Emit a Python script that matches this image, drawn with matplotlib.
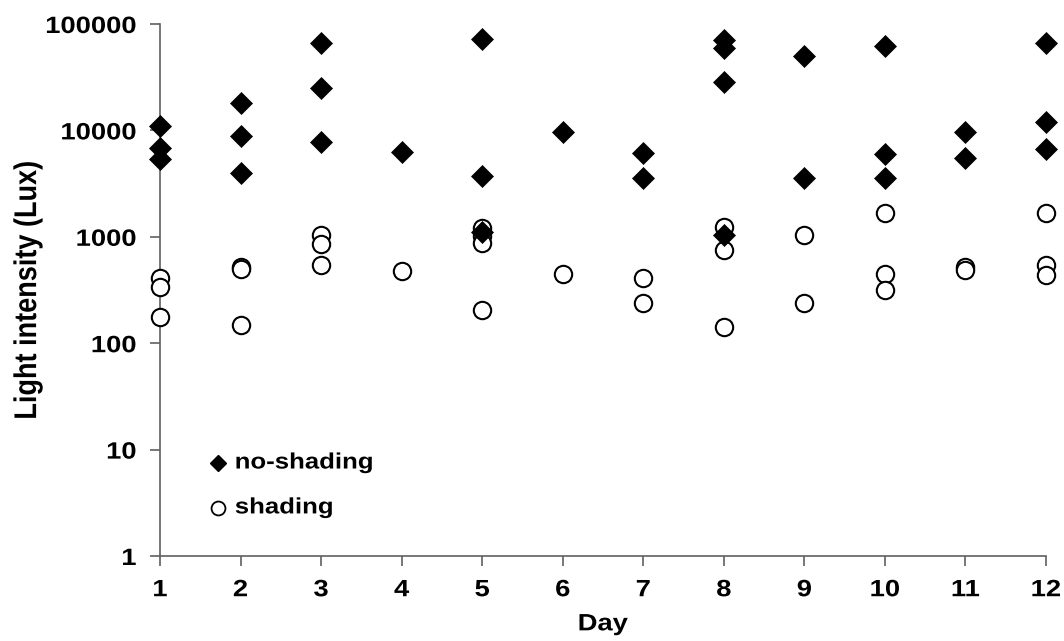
import matplotlib
matplotlib.use("Agg")
import matplotlib.pyplot as plt
from matplotlib.ticker import FixedLocator, FixedFormatter, NullLocator
from matplotlib.patheffects import AbstractPathEffect
from matplotlib.transforms import Affine2D

plt.rcParams['font.family'] = ['Liberation Sans', 'DejaVu Sans']
plt.rcParams['font.weight'] = 'bold'

# no-shading series (day, lux)
noshade_day = [1, 1, 1, 2, 2, 2, 3, 3, 3, 4, 5, 5, 5, 6, 7, 7,
               8, 8, 8, 8, 9, 9, 10, 10, 10, 11, 11, 12, 12, 12]
noshade_lux = [11000, 6800, 5350, 18000, 8900, 3950, 66000, 25200, 7800,
               6300, 73000, 3730, 1120, 9700, 6100, 3600,
               70000, 59000, 28700, 1040, 50000, 3590, 62500, 6000, 3590,
               9700, 5540, 66000, 12100, 6640]

# shading series (day, lux)
shade_day = [1, 1, 1, 2, 2, 2, 3, 3, 3, 4, 5, 5, 5, 5, 6, 7, 7,
             8, 8, 8, 9, 9, 10, 10, 10, 11, 11, 12, 12, 12]
shade_lux = [410, 335, 177, 524, 495, 148, 1040, 850, 543, 477,
             1210, 1010, 870, 205, 450, 407, 240,
             1245, 751, 143, 1040, 240, 1685, 447, 316, 524, 488,
             1685, 543, 438]

day_ticks = list(range(1, 13))
y_ticks = [1, 10, 100, 1000, 10000, 100000]
y_labels = ["1", "10", "100", "1000", "10000", "100000"]
legend_labels = ['no-shading', 'shading']


class StretchX(AbstractPathEffect):
    """Stretch text glyphs horizontally (the reference text is wide)."""
    def __init__(self, sx=1.16, anchor='center'):
        super().__init__()
        self.sx = sx
        self.anchor = anchor

    def draw_path(self, renderer, gc, tpath, affine, rgbFace=None):
        ext = tpath.get_extents(affine)
        if self.anchor == 'right':
            x0 = ext.x1
        elif self.anchor == 'left':
            x0 = ext.x0
        else:
            x0 = 0.5 * (ext.x0 + ext.x1)
        new = affine + Affine2D().translate(-x0, 0).scale(self.sx, 1).translate(x0, 0)
        renderer.draw_path(gc, tpath, new, rgbFace)


fig = plt.figure(figsize=(10.64, 6.41), dpi=100)
ax = fig.add_axes([160/1064, 1-556/641, (1046-160)/1064, (556-24)/641])

ax.plot(shade_day, shade_lux, linestyle='none', marker='o', ms=12.5,
        mfc='white', mec='black', mew=1.5, clip_on=False, zorder=3)
ax.plot(noshade_day, noshade_lux, linestyle='none', marker='D', ms=11,
        mfc='black', mec='black', mew=0.5, clip_on=False, zorder=4)

ax.set_yscale('log')
ax.set_ylim(1, 100000)
ax.set_xlim(1, 12)
ax.yaxis.set_major_locator(FixedLocator(y_ticks))
ax.yaxis.set_major_formatter(FixedFormatter(y_labels))
ax.yaxis.set_minor_locator(NullLocator())
ax.set_xticks(day_ticks)
ax.set_xticklabels([str(d) for d in day_ticks])

for s in ['top', 'right']:
    ax.spines[s].set_visible(False)
for s in ['left', 'bottom']:
    ax.spines[s].set_color('#606060')
    ax.spines[s].set_linewidth(1.2)
ax.tick_params(axis='both', direction='out', length=7, width=1.2,
               color='#606060', labelsize=17)
ax.tick_params(axis='y', pad=10)
ax.tick_params(axis='x', pad=9)
for lab in ax.get_xticklabels():
    lab.set_fontweight('bold')
    lab.set_path_effects([StretchX(1.16, 'center')])
for lab in ax.get_yticklabels():
    lab.set_fontweight('bold')
    lab.set_path_effects([StretchX(1.16, 'right')])

xl = ax.set_xlabel('Day', fontsize=17, fontweight='bold', labelpad=8)
xl.set_path_effects([StretchX(1.16, 'center')])
yl = ax.set_ylabel('Light intensity (Lux)', fontsize=19.5, fontweight='bold', labelpad=12)
yl.set_path_effects([StretchX(1.16, 'center')])

# legend drawn inside the axes
leg_y = [7.48, 2.83]
ax.plot([1.72], [leg_y[0]], linestyle='none', marker='D', ms=7.8, mfc='black',
        mec='black', clip_on=False)
ax.plot([1.72], [leg_y[1]], linestyle='none', marker='o', ms=10, mfc='white',
        mec='black', mew=1.3, clip_on=False)
for ly, txt in zip(leg_y, legend_labels):
    t = ax.text(1.93, ly, txt, fontsize=16, fontweight='bold', va='center', ha='left')
    t.set_path_effects([StretchX(1.16, 'left')])

fig.savefig('out.png', dpi=100)
